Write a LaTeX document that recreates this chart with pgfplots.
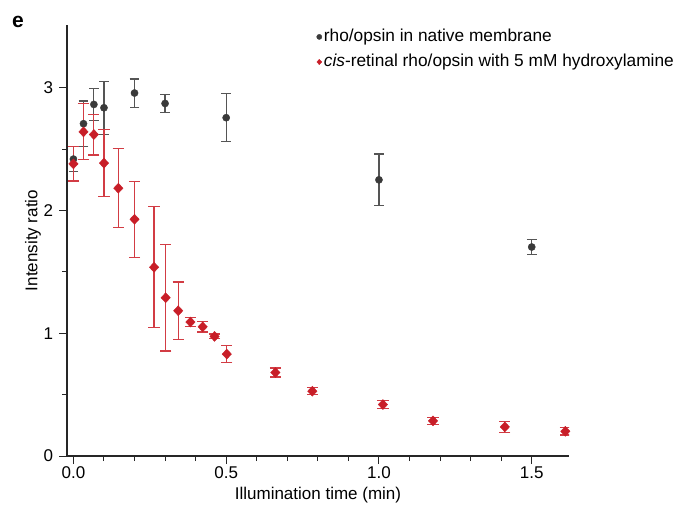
\documentclass[border=0pt]{standalone}
\usepackage{fontspec}
\setmainfont{Liberation Sans}
\usepackage{pgfplots}
\pgfplotsset{compat=1.18}
\definecolor{nativegray}{RGB}{58,58,58}
\definecolor{nativebar}{RGB}{85,85,85}
\definecolor{cisred}{RGB}{200,30,40}
\definecolor{cisbar}{RGB}{210,60,68}
\begin{document}
\fontsize{17}{20}\selectfont
\begin{tikzpicture}
\path[use as bounding box] (0,0) rectangle (674pt,507pt);
\begin{axis}[
    at={(67pt,51pt)}, anchor=south west,
    scale only axis, width=502pt, height=431pt,
    xmin=-0.021, xmax=1.622, ymin=0, ymax=3.51,
    axis lines=left,
    axis line style={-, line width=1.2pt, color=black!85},
    tick align=outside,
    tick style={line width=1pt, color=black!85},
    major tick length=8pt, minor tick length=5pt,
    xtick={0,0.5,1,1.5}, minor x tick num=4,
    ytick={0,1,2,3}, minor y tick num=1,
    xticklabel style={yshift=3pt, /pgf/number format/.cd, fixed, fixed zerofill, precision=1},
    /pgf/number format/assume math mode=true,
    tick label style={font=\fontsize{17}{20}\selectfont},
    label style={font=\fontsize{17}{20}\selectfont},
    xlabel={Illumination time (min)},
    ylabel={Intensity ratio},
    xlabel style={at={(axis description cs:0.5,-0.09)}, anchor=center},
    ylabel style={at={(axis description cs:-0.068,0.5)}, anchor=center},
    legend style={at={(0.497,0.995)}, anchor=north west, draw=none, fill=none,
        font=\fontsize{17.3}{20}\selectfont, row sep=6pt, inner sep=0pt},
    legend cell align=left,
    legend image code/.code={\draw[#1, mark size=2.6pt] plot coordinates {(4pt,0pt)};},
]
\addplot[only marks, mark=*, mark size=3.6pt,
    mark options={fill=nativegray, draw=nativegray},
    error bars/.cd, y dir=both, y explicit, error mark=|,
    error bar style={line width=1.2pt, color=nativebar},
    error mark options={mark size=4.8pt, line width=1.2pt, color=nativebar}]
table[x=x, y=y, y error=e] {
x     y      e
0     2.418  0.10
0.033 2.706  0.185
0.067 2.863  0.130
0.1   2.836  0.215
0.2   2.956  0.115
0.3   2.871  0.073
0.5   2.755  0.197
1.0   2.249  0.210
1.5   1.702  0.062
};
\addlegendentry{rho/opsin in native membrane}
\addplot[only marks, mark=diamond*, mark size=5pt,
    mark options={fill=cisred, draw=cisred, xscale=1.25},
    error bars/.cd, y dir=both, y explicit, error mark=|,
    error bar style={line width=1.2pt, color=cisbar},
    error mark options={mark size=5.6pt, line width=1.2pt, color=cisbar}]
table[x=x, y=y, y error=e] {
x     y      e
0     2.379  0.139
0.033 2.640  0.228
0.067 2.618  0.166
0.1   2.385  0.274
0.147 2.181  0.320
0.2   1.928  0.310
0.264 1.537  0.493
0.302 1.289  0.434
0.343 1.183  0.234
0.383 1.091  0.037
0.423 1.052  0.042
0.462 0.974  0.020
0.502 0.830  0.068
0.661 0.680  0.037
0.782 0.528  0.028
1.013 0.419  0.031
1.177 0.286  0.028
1.412 0.237  0.047
1.610 0.201  0.030
};
\addlegendentry{\textit{cis}-retinal rho/opsin with 5 mM hydroxylamine}
\end{axis}
\node[font=\bfseries\fontsize{21}{24}\selectfont] at (18pt,485pt) {e};
\end{tikzpicture}
\end{document}
